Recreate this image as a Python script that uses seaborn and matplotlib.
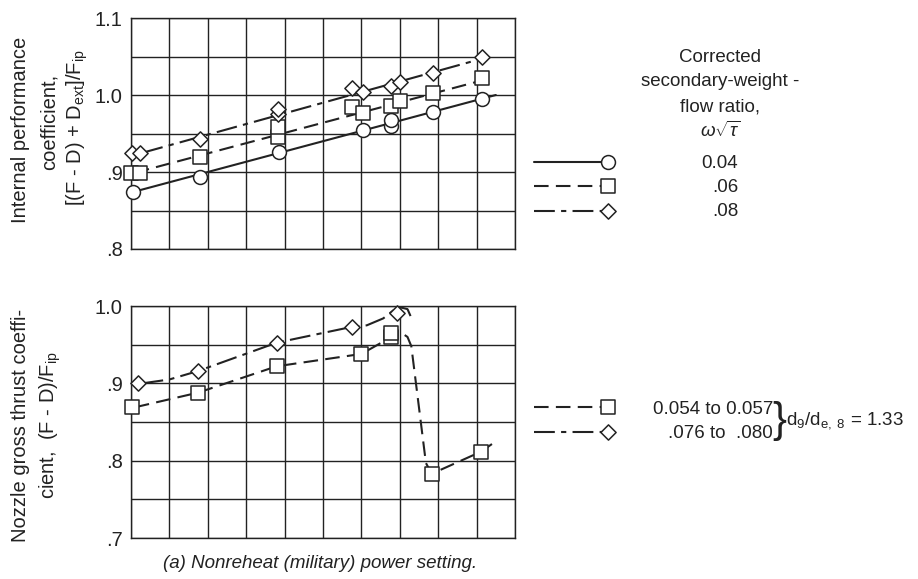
import matplotlib
matplotlib.use("Agg")
import matplotlib.pyplot as plt
from matplotlib import font_manager
import seaborn as sns

# DATA (x in grid units 0..10)

# top panel: internal performance coefficient
top_x_c = [0.05, 1.8, 3.85, 6.05, 6.78, 6.78, 7.87, 9.13]
top_y_c = [0.874, 0.894, 0.926, 0.954, 0.960, 0.967, 0.978, 0.995]
top_x_s = [0.0, 0.23, 1.8, 3.84, 3.84, 5.75, 6.05, 6.76, 7.0, 7.87, 9.13]
top_y_s = [0.899, 0.899, 0.920, 0.946, 0.958, 0.985, 0.977, 0.986, 0.992, 1.003, 1.022]
top_x_d = [0.02, 0.23, 1.8, 3.84, 3.84, 5.75, 6.05, 6.76, 7.0, 7.87, 9.13]
top_y_d = [0.925, 0.925, 0.943, 0.975, 0.982, 1.009, 1.004, 1.012, 1.017, 1.029, 1.049]

# faired curves, top panel
fair_c_x = [0.05, 9.5]
fair_c_y = [0.874, 1.0]
fair_s_x = [0.1, 9.45]
fair_s_y = [0.899, 1.023]
fair_d_x = [0.3, 9.2]
fair_d_y = [0.925, 1.048]

# bottom panel: nozzle gross thrust coefficient
bot_x_s = [0.03, 1.75, 3.79, 6.0, 6.76, 6.76, 7.83, 9.11]
bot_y_s = [0.869, 0.888, 0.922, 0.938, 0.960, 0.965, 0.783, 0.8115]
bot_x_d = [0.19, 1.75, 3.79, 5.75, 6.94]
bot_y_d = [0.900, 0.916, 0.9525, 0.973, 0.9905]

# faired curves, bottom panel
fair_bs_x = [0.1, 1.75, 3.79, 6.0, 6.5, 6.76, 7.05, 7.2, 7.3, 7.68, 7.83, 9.11, 9.4]
fair_bs_y = [0.869, 0.888, 0.922, 0.938, 0.952, 0.965, 0.965, 0.960, 0.948, 0.797, 0.783, 0.8115, 0.8215]
fair_bd_x = [0.3, 1.0, 1.75, 3.79, 5.75, 6.14, 6.57, 6.95, 7.2, 7.28]
fair_bd_y = [0.900, 0.905, 0.916, 0.9525, 0.973, 0.975, 0.984, 0.999, 0.996, 0.987]

top_legend = ["0.04", ".06", ".08"]
bot_legend = ["0.054 to 0.057", ".076 to  .080"]

# STYLE

sns.set_style("white")
names = {f.name for f in font_manager.fontManager.ttflist}
main_font = "Liberation Sans Narrow" if "Liberation Sans Narrow" in names else "Liberation Sans"
plt.rcParams['font.family'] = [main_font, 'DejaVu Sans']
plt.rcParams['mathtext.fontset'] = 'custom'
plt.rcParams['mathtext.rm'] = main_font
plt.rcParams['mathtext.it'] = main_font + ':italic'

ink = "#222222"
solid = "-"
dashed = (0, (7, 3.5))
dashdot = (0, (10, 3, 2.5, 3))

fig = plt.figure(figsize=(9.18, 5.79), dpi=100)
ax_top = fig.add_axes([131 / 918, 1 - 249 / 579, 384 / 918, 231 / 579])
ax_bot = fig.add_axes([131 / 918, 1 - 538 / 579, 384 / 918, 232 / 579])


def frame(ax, ylo, labels):
    ax.set_xlim(0, 10)
    ax.set_ylim(ylo, ylo + 0.3)
    ax.set_xticks(range(11))
    ax.set_xticklabels([])
    ticks = [ylo + 0.05 * i for i in range(7)]
    ax.set_yticks(ticks)
    ax.set_yticklabels(labels)
    ax.tick_params(length=0, pad=6, labelsize=14.5, colors=ink)
    ax.grid(True, color=ink, linewidth=1.0)
    for sp in ax.spines.values():
        sp.set_color(ink)
        sp.set_linewidth(1.0)


frame(ax_top, 0.8, [".8", "", ".9", "", "1.0", "", "1.1"])
frame(ax_bot, 0.7, [".7", "", ".8", "", ".9", "", "1.0"])


def curve(ax, x, y, ls):
    sns.lineplot(x=x, y=y, ax=ax, sort=False, estimator=None, color=ink,
                 linewidth=1.5, linestyle=ls, zorder=2)


def points(ax, x, y, mk, size):
    sns.scatterplot(x=x, y=y, ax=ax, marker=mk, s=size, facecolor="white",
                    edgecolor=ink, linewidth=1.1, zorder=3, clip_on=False)


# top panel
curve(ax_top, fair_c_x, fair_c_y, solid)
curve(ax_top, fair_s_x, fair_s_y, dashed)
curve(ax_top, fair_d_x, fair_d_y, dashdot)
points(ax_top, top_x_c, top_y_c, "o", 100)
points(ax_top, top_x_s, top_y_s, "s", 90)
points(ax_top, top_x_d, top_y_d, "D", 60)

# bottom panel
curve(ax_bot, fair_bs_x, fair_bs_y, dashed)
curve(ax_bot, fair_bd_x, fair_bd_y, dashdot)
points(ax_bot, bot_x_s, bot_y_s, "s", 90)
points(ax_bot, bot_x_d, bot_y_d, "D", 60)

# overlay in pixel coordinates for labels and keys
ov = fig.add_axes([0, 0, 1, 1], facecolor="none")
ov.set_xlim(0, 918)
ov.set_ylim(579, 0)
ov.axis("off")

fs = 13.5
yfs = 14.5
ov.text(21, 130, "Internal performance", rotation=90, ha="center", va="center", fontsize=yfs, color=ink)
ov.text(49, 122, "coefficient,", rotation=90, ha="center", va="center", fontsize=yfs, color=ink)
ov.text(77, 128, r"[(F - D) + D$_{\mathregular{ext}}$]/F$_{\mathregular{ip}}$", rotation=90,
        ha="center", va="center", fontsize=yfs, color=ink)
ov.text(21, 425, "Nozzle gross thrust coeffi-", rotation=90, ha="center", va="center", fontsize=yfs, color=ink)
ov.text(50, 425, r"cient,  (F - D)/F$_{\mathregular{ip}}$", rotation=90, ha="center", va="center",
        fontsize=yfs, color=ink)

ov.text(320, 563, "(a) Nonreheat (military) power setting.", ha="center", va="center",
        fontsize=fs, style="italic", color=ink)

# top key
for i, txt in enumerate(["Corrected", "secondary-weight -", "flow ratio,"]):
    ov.text(720, 57 + 25 * i, txt, ha="center", va="center", fontsize=fs, color=ink)
ov.text(720, 131, r"$\omega\sqrt{\tau}$", ha="center", va="center", fontsize=fs, color=ink)

key_styles = [(solid, "o", 100), (dashed, "s", 90), (dashdot, "D", 60)]
key_y = [162, 186, 211]
for (ls, mk, sz), yy, lab in zip(key_styles, key_y, top_legend):
    ov.plot([534, 602], [yy, yy], color=ink, linewidth=1.5, linestyle=ls)
    ov.scatter([608], [yy], marker=mk, s=sz, facecolor="white", edgecolor=ink, linewidth=1.1, zorder=3)
    ov.text(738, yy + 1, lab, ha="right", va="center", fontsize=fs, color=ink)

# bottom key
key_y2 = [407, 432]
for (ls, mk, sz), yy, lab in zip(key_styles[1:], key_y2, bot_legend):
    ov.plot([534, 602], [yy, yy], color=ink, linewidth=1.5, linestyle=ls)
    ov.scatter([608], [yy], marker=mk, s=sz, facecolor="white", edgecolor=ink, linewidth=1.1, zorder=3)
    ov.text(773, yy + 2, lab, ha="right", va="center", fontsize=fs, color=ink)
ov.text(772, 421, "}", ha="left", va="center", fontsize=30, color=ink, fontweight="light")
ov.text(786, 421, r"d$_{\mathregular{9}}$/d$_{\mathregular{e,\ 8}}$ = 1.33", ha="left", va="center",
        fontsize=fs, color=ink)

fig.savefig("out.png", dpi=100)
